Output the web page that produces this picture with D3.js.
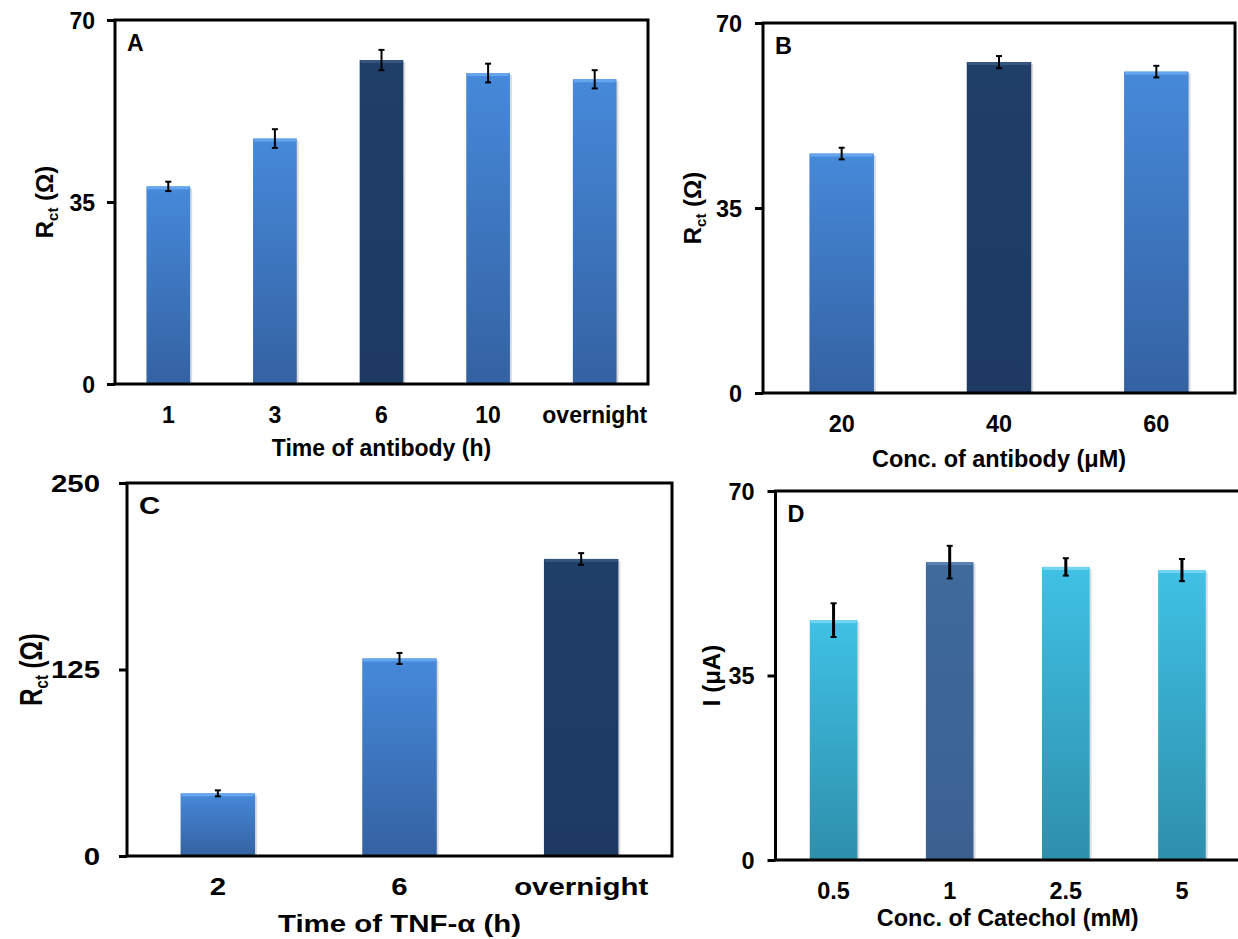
<!DOCTYPE html>
<html>
<head>
<meta charset="utf-8">
<script src="https://cdn.jsdelivr.net/npm/d3@7"></script>
<style>
  html, body { margin: 0; padding: 0; background: #fff; }
  svg { display: block; }
  text { font-family: "Liberation Sans", Arial, sans-serif; font-weight: bold; fill: #000; }
</style>
</head>
<body>
<svg id="chart" width="1238" height="939"></svg>
<script>
// ---------- data ----------
const catA = ["1", "3", "6", "10", "overnight"];
const valA = [38.0, 47.2, 62.3, 59.8, 58.6];
const errA = [0.9, 1.8, 1.95, 1.8, 1.75];
const ticksA = [0, 35, 70];

const catB = ["20", "40", "60"];
const valB = [45.3, 62.6, 60.8];
const errB = [1.1, 1.15, 1.1];
const ticksB = [0, 35, 70];

const catC = ["2", "6", "overnight"];
const valC = [42.0, 132.4, 199.1];
const errC = [2.0, 3.7, 3.9];
const ticksC = [0, 125, 250];

const catD = ["0.5", "1", "2.5", "5"];
const valD = [45.5, 56.5, 55.6, 55.0];
const errD = [3.2, 3.1, 1.65, 2.1];
const ticksD = [0, 35, 70];

// ---------- styling ----------
const palettes = {
  blue:  { top: "#4689da", bottom: "#3462a2", bevel: "#66a6ee" },
  navy:  { top: "#1f3e68", bottom: "#1e3a62", bevel: "#36567f" },
  cyan:  { top: "#3fc1e5", bottom: "#2e8fab", bevel: "#74d5f2" },
  steel: { top: "#3f6a9c", bottom: "#3b6191", bevel: "#5a82b2" }
};

const svg = d3.select("#chart");
const defs = svg.append("defs");
Object.entries(palettes).forEach(([k, p]) => {
  const g = defs.append("linearGradient").attr("id", "g-" + k)
    .attr("x1", 0).attr("y1", 0).attr("x2", 0).attr("y2", 1);
  g.append("stop").attr("offset", "0%").attr("stop-color", p.top);
  g.append("stop").attr("offset", "100%").attr("stop-color", p.bottom);
});

const FS = 23;

const panels = [
  { letter: "A", cats: catA, vals: valA, errs: errA, ticks: ticksA, max: 70,
    box: [115, 20, 648, 384], base: "blue", hi: "navy", hiIndex: 2, sx: 1,
    xTitle: "Time of antibody (h)", yMain: "R", ySub: "ct", yRest: " (Ω)",
    yLabelX: 53, xTitleDy: 72, capW: 3, errW: 2, tickGap: 20 },
  { letter: "B", cats: catB, vals: valB, errs: errB, ticks: ticksB, max: 70,
    box: [763, 23, 1235, 393], base: "blue", hi: "navy", hiIndex: 1, sx: 1.02,
    xTitle: "Conc. of antibody (μM)", yMain: "R", ySub: "ct", yRest: " (Ω)",
    yLabelX: 701, xTitleDy: 74, capW: 3, errW: 2, tickGap: 21 },
  { letter: "C", cats: catC, vals: valC, errs: errC, ticks: ticksC, max: 250,
    box: [127, 483, 672, 856], base: "blue", hi: "navy", hiIndex: 2, sx: 1.28,
    xTitle: "Time of TNF-α (h)", yMain: "R", ySub: "ct", yRest: " (Ω)",
    yLabelX: 42, xTitleDy: 76, capW: 3, errW: 2, tickGap: 27 },
  { letter: "D", cats: catD, vals: valD, errs: errD, ticks: ticksD, max: 70,
    box: [775.5, 491, 1240, 860], base: "cyan", hi: "steel", hiIndex: 1, sx: 1.02,
    xTitle: "Conc. of Catechol (mM)", yMain: "I (μA)", ySub: "", yRest: "",
    yLabelX: 720, xTitleDy: 66, capW: 3, errW: 3, tickGap: 21 }
];

panels.forEach(drawPanel);

function drawPanel(p) {
  const [L, T, R, B] = p.box;
  const g = svg.append("g");
  const pad = 0.59;
  const x = d3.scaleBand().domain(p.cats).range([L, R]).paddingInner(pad).paddingOuter(pad / 2);
  const y = d3.scaleLinear().domain([0, p.max]).range([B, T]);
  const data = p.cats.map((c, i) => ({ c, v: p.vals[i], e: p.errs[i], i }));
  const pal = d => palettes[d.i === p.hiIndex ? p.hi : p.base];
  const gid = d => "url(#g-" + (d.i === p.hiIndex ? p.hi : p.base) + ")";

  // soft shadow
  g.selectAll(".shadow").data(data).join("rect")
    .attr("x", d => x(d.c) + 2).attr("y", d => y(d.v) + 2)
    .attr("width", x.bandwidth()).attr("height", d => B - y(d.v) - 2)
    .attr("fill", "#dcdcdc");
  // bars
  g.selectAll(".bar").data(data).join("rect")
    .attr("x", d => x(d.c)).attr("y", d => y(d.v))
    .attr("width", x.bandwidth()).attr("height", d => B - y(d.v))
    .attr("fill", gid);
  // top bevel
  g.selectAll(".bevel").data(data).join("rect")
    .attr("x", d => x(d.c) + 1).attr("y", d => y(d.v))
    .attr("width", x.bandwidth() - 2).attr("height", 3)
    .attr("fill", d => pal(d).bevel);

  // error bars
  const eb = g.selectAll(".err").data(data).join("g")
    .attr("stroke", "#000").attr("stroke-width", p.errW);
  const cx = d => x(d.c) + x.bandwidth() / 2;
  eb.append("line").attr("x1", cx).attr("x2", cx)
    .attr("y1", d => y(d.v + d.e)).attr("y2", d => y(d.v - d.e));
  eb.append("line").attr("x1", d => cx(d) - p.capW).attr("x2", d => cx(d) + p.capW)
    .attr("y1", d => y(d.v + d.e)).attr("y2", d => y(d.v + d.e)).attr("stroke-width", 2);
  eb.append("line").attr("x1", d => cx(d) - p.capW).attr("x2", d => cx(d) + p.capW)
    .attr("y1", d => y(d.v - d.e)).attr("y2", d => y(d.v - d.e)).attr("stroke-width", 2);

  // frame
  g.append("rect").attr("x", L).attr("y", T).attr("width", R - L).attr("height", B - T)
    .attr("fill", "none").attr("stroke", "#000").attr("stroke-width", 3);

  // y axis
  const ya = g.append("g").attr("transform", `translate(${L},0)`)
    .call(d3.axisLeft(y).tickValues(p.ticks).tickSize(8).tickFormat(d3.format("d")));
  ya.select(".domain").remove();
  ya.selectAll(".tick line").attr("stroke", "#000").attr("stroke-width", 3);
  ya.selectAll(".tick text")
    .attr("x", null).attr("dy", "0.36em")
    .attr("transform", `translate(${-p.tickGap},0) scale(${p.sx},1)`)
    .attr("font-size", FS).attr("font-family", null).attr("fill", "#000");

  // x axis
  const xa = g.append("g").attr("transform", `translate(0,${B})`)
    .call(d3.axisBottom(x).tickSize(0).tickPadding(0));
  xa.select(".domain").remove();
  xa.selectAll(".tick text")
    .attr("y", null).attr("dy", null)
    .attr("transform", `translate(0,39) scale(${p.sx},1)`)
    .attr("font-size", FS).attr("font-family", null).attr("fill", "#000");

  // x title
  g.append("text").attr("text-anchor", "middle")
    .attr("transform", `translate(${(L + R) / 2},${B + p.xTitleDy}) scale(${p.sx},1)`)
    .attr("font-size", FS).text(p.xTitle);

  // y title
  const yt = g.append("text").attr("text-anchor", "middle")
    .attr("transform", `translate(${p.yLabelX},${(T + B) / 2}) scale(${p.sx},1) rotate(-90)`)
    .attr("font-size", 24);
  yt.append("tspan").text(p.yMain);
  if (p.ySub) {
    yt.append("tspan").attr("font-size", 15).attr("dy", 5).text(p.ySub);
    yt.append("tspan").attr("dy", -5).text(p.yRest);
  }

  // panel letter
  g.append("text").attr("font-size", FS)
    .attr("transform", `translate(${L + 12},${T + 31}) scale(${p.sx},1)`)
    .text(p.letter);
}
</script>
</body>
</html>
